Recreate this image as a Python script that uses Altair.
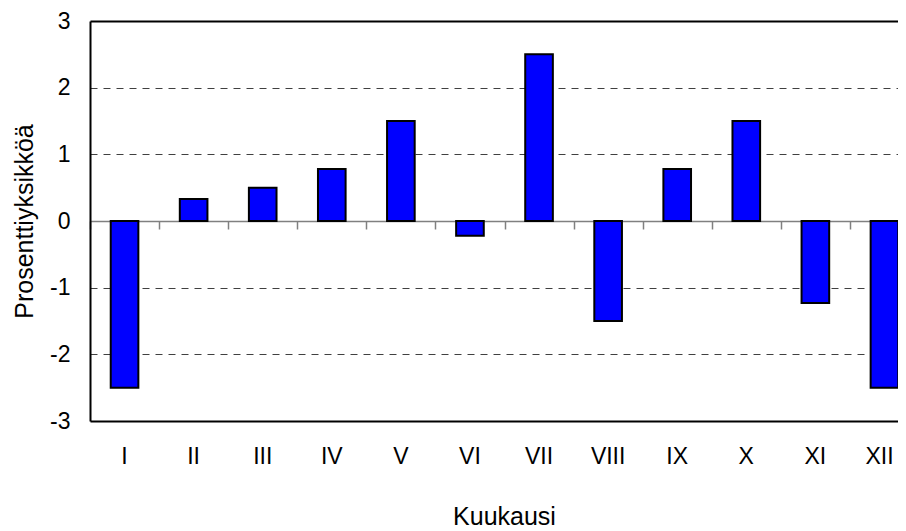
import altair as alt
import pandas as pd

months = ["I", "II", "III", "IV", "V", "VI", "VII", "VIII", "IX", "X", "XI", "XII"]
values = [-2.5, 0.33, 0.5, 0.78, 1.5, -0.22, 2.5, -1.5, 0.78, 1.5, -1.23, -2.5]

df = pd.DataFrame({"Kuukausi": months, "Arvo": values})

FULL_W = 829          # full plot width (extends beyond the picture edge)
W = 808               # visible part of the plot
H = 400
STEP = FULL_W / len(months)
FONT = "Liberation Sans"
FS_LABEL = 23
FS_TITLE = 25

xscale = alt.Scale(paddingInner=0.6, paddingOuter=0.3, range=[0, FULL_W])
yscale = alt.Scale(domain=[-3, 3], nice=False, zero=False)

bars = alt.Chart(df).mark_bar(
    color="#0000FF", stroke="#000000", strokeWidth=2
).encode(
    x=alt.X("Kuukausi:N", sort=months, scale=xscale,
            axis=alt.Axis(title="Kuukausi", orient="bottom", labelAngle=0,
                          ticks=False, tickSize=0, grid=False,
                          domain=True, domainColor="#000000", domainWidth=2,
                          labelFont=FONT, labelFontSize=FS_LABEL, labelColor="#000000",
                          labelBaseline="middle", labelPadding=35,
                          labelOffset=alt.condition("datum.value == 'XII'", alt.value(-5), alt.value(0)),
                          titleFont=FONT, titleFontSize=FS_TITLE, titleFontWeight="normal",
                          titleColor="#000000", titleBaseline="middle", titleY=95,
                          titleX=414)),
    y=alt.Y("Arvo:Q", scale=yscale,
            axis=alt.Axis(title="Prosenttiyksikköä", values=[-3, -2, -1, 0, 1, 2, 3],
                          labelExpr="'' + datum.value",
                          ticks=False, tickSize=0,
                          domain=True, domainColor="#000000", domainWidth=2,
                          grid=True, gridColor="#404040", gridDash=[7, 6], gridWidth=1,
                          gridOpacity=alt.condition("abs(datum.value) == 0 || abs(datum.value) == 3", alt.value(0), alt.value(1)),
                          labelFont=FONT, labelFontSize=FS_LABEL, labelColor="#000000",
                          labelPadding=20,
                          titleFont=FONT, titleFontSize=FS_TITLE, titleFontWeight="normal",
                          titleColor="#000000", titleAngle=-90, titleX=-66, titleY=200,
                          titleAlign="center", titleBaseline="middle")),
)

zero_axis = alt.Chart(df).mark_bar(opacity=0).encode(
    x=alt.X("Kuukausi:N", sort=months, scale=xscale,
            axis=alt.Axis(title=None, orient="bottom", labels=False, grid=False,
                          domain=True, domainColor="#808080", domainWidth=1.5,
                          ticks=True, tickColor="#808080", tickWidth=1.5, tickSize=8,
                          tickOffset=-STEP / 2, offset=-H / 2)),
    y=alt.Y("Arvo:Q", scale=yscale),
)

top_border = alt.Chart(df).mark_bar(opacity=0).encode(
    x=alt.X("Kuukausi:N", sort=months, scale=xscale,
            axis=alt.Axis(title=None, orient="top", labels=False, grid=False,
                          ticks=False, domain=True, domainColor="#000000", domainWidth=2)),
    y=alt.Y("Arvo:Q", scale=yscale),
)

chart = alt.layer(bars, zero_axis, top_border).resolve_axis(x="independent").properties(
    width=W, height=H,
    autosize=alt.AutoSizeParams(type="none"),
    padding={"left": 82, "top": 13, "right": 0, "bottom": 110},
    background="#ffffff",
).configure_view(
    strokeWidth=0
)

chart.save("out.html", embed_options={"renderer": "svg", "actions": False})
